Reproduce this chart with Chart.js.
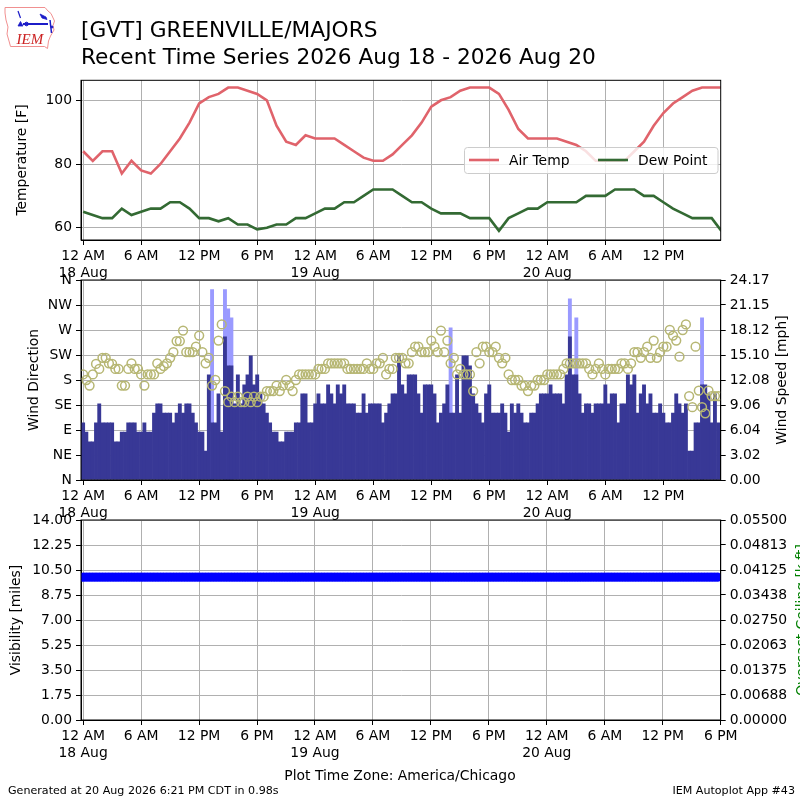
<!DOCTYPE html>
<html><head><meta charset="utf-8">
<script src="https://cdn.jsdelivr.net/npm/chart.js@4.4.0/dist/chart.umd.min.js"></script>
<style>
html,body{margin:0;padding:0;background:#fff;}
#wrap{position:relative;width:800px;height:800px;overflow:hidden;background:#fff;}
#wrap canvas{position:absolute;left:0;top:0;}
#ov{position:absolute;left:0;top:0;pointer-events:none;}
</style></head><body>
<div id="wrap">
<canvas id="c1" width="800" height="800"></canvas>
<canvas id="c2" width="800" height="800"></canvas>
<canvas id="c3" width="800" height="800"></canvas>
<svg id="ov" width="800" height="800" font-family="DejaVu Sans" xmlns="http://www.w3.org/2000/svg">
  <!-- IEM logo -->
  <path d="M5,7.5 L45,7.5 L48,11 L51,13.5 L54.5,21 L53,25.5 L54,30 L50.5,36 L48.5,41 L47.5,48.5 L44.5,46.5 L10.5,46.5 L9,41 L7,34 L8,27 L6,20 L5,13 Z" fill="none" stroke="#f09090" stroke-width="1"/>
  <g stroke="#1c1cc8" fill="#1c1cc8">
    <line x1="18" y1="11" x2="20.5" y2="18" stroke-width="1.2"/>
    <path d="M18,26 L20.5,21.5 L23,26 Z" stroke-width="0.8"/>
    <line x1="23" y1="24" x2="48" y2="24" stroke-width="2"/>
    <circle cx="26.5" cy="24" r="1.8"/>
    <path d="M40,14 L46,17 L47,19.5 L42,18 Z" stroke-width="0.8"/>
    <line x1="50" y1="20" x2="51.5" y2="33" stroke-width="1.5"/>
    <circle cx="52" cy="27" r="1"/>
  </g>
  <text x="16.5" y="44" font-family="Liberation Serif" font-style="italic" font-size="15" fill="#cc2222">IEM</text>
  <!-- titles -->
  <text x="81" y="37.3" font-size="21.7" fill="#000">[GVT] GREENVILLE/MAJORS</text>
  <text x="81" y="64" font-size="21.7" fill="#000">Recent Time Series 2026 Aug 18 - 2026 Aug 20</text>
  <!-- legend -->
  <rect x="464.5" y="147.5" width="253.5" height="26" rx="3" fill="#ffffff" fill-opacity="0.8" stroke="#cccccc" stroke-width="1"/>
  <line x1="469" y1="160" x2="499" y2="160" stroke="#e0636b" stroke-width="2.6"/>
  <text x="509" y="165" font-size="13.9" fill="#000">Air Temp</text>
  <line x1="598" y1="160" x2="628" y2="160" stroke="#336a33" stroke-width="2.6"/>
  <text x="638" y="165" font-size="13.9" fill="#000">Dew Point</text>
  <!-- axis titles -->
  <text transform="translate(26,160) rotate(-90)" text-anchor="middle" font-size="13.9" fill="#000">Temperature [F]</text>
  <text transform="translate(38,380) rotate(-90)" text-anchor="middle" font-size="13.9" fill="#000">Wind Direction</text>
  <text transform="translate(786,380) rotate(-90)" text-anchor="middle" font-size="13.9" fill="#000">Wind Speed [mph]</text>
  <text transform="translate(20,620) rotate(-90)" text-anchor="middle" font-size="13.9" fill="#000">Visibility [miles]</text>
  <text transform="translate(806,620) rotate(-90)" text-anchor="middle" font-size="13.9" fill="#008000">Overcast Ceiling [k ft]</text>
  <!-- footer -->
  <text x="400" y="780" text-anchor="middle" font-size="13.9" fill="#000">Plot Time Zone: America/Chicago</text>
  <text x="8" y="794" font-size="11.1" fill="#000">Generated at 20 Aug 2026 6:21 PM CDT in 0.98s</text>
  <text x="795" y="794" text-anchor="end" font-size="11.1" fill="#000">IEM Autoplot App #43</text>
</svg>
</div>
<script>
// ---------------- DATA ----------------
// hourly temperatures (F), hour 0 = 12 AM 18 Aug
const airTemp = [84,81,84,84,77,81,78,77,80,84,
                 88,93,99,101,102,104,104,103,102,100,
                 92,87,86,89,88,88,88,86,84,82,
                 81,81,83,86,89,93,98,100,101,103,
                 104,104,104,102,97,91,88,88,88,88,
                 87,86,84,81,81,81,81,84,87,92,
                 96,99,101,103,104,104,104];
const dewPoint = [65,64,63,63,66,64,65,66,66,68,
                  68,66,63,63,62,63,61,61,59.5,60,
                  61,61,63,63,64.5,66,66,68,68,70,
                  72,72,72,70,68,68,66,64.5,64.5,64.5,
                  63,63,63,59,63,64.5,66,66,68,68,
                  68,68,70,70,70,72,72,72,70,70,
                  68,66,64.5,63,63,63,59];
// 20-minute observations
const windSpeedMph = [6.9,5.8,4.6,4.6,6.9,9.2,6.9,6.9,6.9,6.9,
  4.6,4.6,5.8,5.8,6.9,6.9,6.9,5.8,5.8,6.9,
  5.8,5.8,8.1,9.2,9.2,8.1,8.1,8.1,6.9,8.1,
  9.2,8.1,9.2,9.2,8.1,6.9,5.8,5.8,3.5,12.7,
  6.9,6.9,10.4,5.8,17.3,13.8,13.8,9.2,12.7,9.2,
  11.5,12.7,15.0,11.5,12.7,10.4,9.2,8.1,6.9,5.8,
  5.8,4.6,4.6,5.8,5.8,5.8,6.9,6.9,10.4,10.4,
  6.9,6.9,9.2,10.4,9.2,9.2,11.5,10.4,9.2,11.5,
  10.4,11.5,9.2,9.2,9.2,8.1,8.1,10.4,8.1,9.2,
  9.2,9.2,9.2,6.9,8.1,9.2,10.4,10.4,15.0,11.5,
  10.4,12.7,12.7,12.7,10.4,8.1,11.5,11.5,11.5,10.4,
  6.9,8.1,9.2,11.5,8.1,8.1,12.7,8.1,15.0,15.0,
  13.8,10.4,9.2,8.1,6.9,10.4,11.5,8.1,8.1,8.1,
  9.2,8.1,5.8,9.2,8.1,9.2,8.1,6.9,6.9,8.1,
  8.1,9.2,10.4,10.4,10.4,11.5,10.4,10.4,10.4,9.2,
  12.7,17.3,12.7,12.7,10.4,8.1,9.2,9.2,8.1,9.2,
  9.2,9.2,11.5,9.2,10.4,10.4,6.9,9.2,9.2,12.7,
  11.5,12.7,8.1,10.4,11.5,9.2,10.4,8.1,8.1,9.2,
  8.1,6.9,6.9,8.1,10.4,9.2,8.1,9.2,3.5,3.5,
  6.9,6.9,11.5,11.5,10.4,6.9,10.4,6.9];
const gustObsIndex = [40,44,45,46,114,151,153,192];
const windGustMph  = [23.0,23.0,20.7,19.6,18.4,21.9,19.6,19.6];
const windDirDeg = [190,180,170,190,209,200,220,220,210,209,
  200,200,170,170,200,210,200,200,190,170,
  190,190,190,210,200,205,210,220,230,250,
  250,269,230,230,230,240,260,230,210,220,
  170,180,251,280,160,140,150,140,150,140,
  140,150,140,150,140,150,150,160,160,160,
  170,160,170,180,170,160,180,190,190,190,
  190,190,190,200,200,200,210,210,210,210,
  210,210,200,200,200,200,200,200,210,200,
  200,210,210,220,190,200,200,220,220,220,
  210,210,230,240,240,230,230,230,251,240,
  230,269,230,251,210,220,190,200,190,190,
  190,160,230,210,240,240,230,230,240,220,
  210,220,190,180,180,180,170,170,160,170,
  170,180,180,180,190,190,190,190,190,200,
  210,210,210,210,210,210,210,200,190,200,
  210,200,190,200,200,200,200,210,210,200,
  210,230,230,220,230,240,220,251,220,230,
  240,240,270,260,251,222,270,280,151,131,
  240,161,131,120,161,151,151,151];
const visibilityMiles = [
  10,10,10,10,10,10,10,10,10,10,10,10,10,10,10,10,10,10,10,10,10,10,
  10,10,10,10,10,10,10,10,10,10,10,10,10,10,10,10,10,10,10,10,10,10,
  10,10,10,10,10,10,10,10,10,10,10,10,10,10,10,10,10,10,10,10,10,10,
  10,10,10,10,10,10,10,10,10,10,10,10,10,10,10,10,10,10,10,10,10,10,
  10,10,10,10,10,10,10,10,10,10,10,10,10,10,10,10,10,10,10,10,10,10,
  10,10,10,10,10,10,10,10,10,10,10,10,10,10,10,10,10,10,10,10,10,10,
  10,10,10,10,10,10,10,10,10,10,10,10,10,10,10,10,10,10,10,10,10,10,
  10,10,10,10,10,10,10,10,10,10,10,10,10,10,10,10,10,10,10,10,10,10,
  10,10,10,10,10,10,10,10,10,10,10,10,10,10,10,10,10,10,10,10,10,10];
const ceilingKft = [];

// ---------------- TICKS ----------------
const xTickHours = [0,6,12,18,24,30,36,42,48,54,60,66];
const xTickLabels = [["12 AM","18 Aug"],"6 AM","12 PM","6 PM",["12 AM","19 Aug"],"6 AM","12 PM","6 PM",["12 AM","20 Aug"],"6 AM","12 PM","6 PM"];
const tempTicks = [60,80,100];
const dirTicks = [0,45,90,135,180,225,270,315,360];
const dirTickLabels = ["N","NE","E","SE","S","SW","W","NW","N"];
const speedTicks = [0,3.02,6.04,9.06,12.08,15.10,18.12,21.15,24.17];
const visTicks = [0,1.75,3.5,5.25,7,8.75,10.5,12.25,14];
const ceilTicks = [0,0.00688,0.01375,0.02063,0.0275,0.03438,0.04125,0.04813,0.055];

// ---------------- HELPERS ----------------
const FONT = {family:'DejaVu Sans', size:13.9};
const GRID = '#b0b0b0';
const X_MIN = -0.22;
Chart.defaults.font.family = 'DejaVu Sans';

const frame = {id:'frame', afterDraw(chart){
  const {ctx, chartArea:a} = chart;
  ctx.save(); ctx.strokeStyle='#000'; ctx.lineWidth=1;
  ctx.strokeRect(a.left, a.top, a.right-a.left, a.bottom-a.top);
  ctx.restore();
}};

function xAxis(max){
  return {
    type:'linear', position:'bottom', min:X_MIN, max:max, offset:false,
    grid:{color:GRID, lineWidth:1, tickColor:'#000', tickLength:5, offset:false},
    border:{color:'#000', width:1},
    ticks:{font:FONT, color:'#000', padding:3, maxRotation:0, minRotation:0, autoSkip:false,
      callback:(v)=>{const k=xTickHours.indexOf(v); return k>=0?xTickLabels[k]:'';}},
    afterBuildTicks:(ax)=>{ax.ticks = xTickHours.filter(h=>h>=ax.min-1e-9 && h<=ax.max+1e-9).map(h=>({value:h}));},
    afterFit:(ax)=>{ax.height=40;}
  };
}
function yAxis(pos, min, max, ticks, labels, drawGrid){
  return {
    type:'linear', position:pos, min:min, max:max,
    grid:{display:true, drawOnChartArea:drawGrid, color:GRID, lineWidth:1, tickColor:'#000', tickLength:5},
    border:{color:'#000', width:1},
    ticks:{font:FONT, color:'#000', padding:4, autoSkip:false, callback:(v,i)=>labels[i]},
    afterBuildTicks:(ax)=>{ax.ticks = ticks.map(v=>({value:v}));},
    afterFit:(ax)=>{ax.width = (pos==='left') ? 81 : 79.3;}
  };
}
const common = {responsive:false, animation:false, devicePixelRatio:1,
  plugins:{legend:{display:false}, tooltip:{enabled:false}}};

// ---------------- PANEL 1: temperature ----------------
new Chart(document.getElementById('c1'), {
  type:'line',
  data:{datasets:[
    {label:'Air Temp', data:airTemp.map((v,i)=>({x:i,y:v})), borderColor:'#e0636b', borderWidth:2.6, pointRadius:0, tension:0},
    {label:'Dew Point', data:dewPoint.map((v,i)=>({x:i,y:v})), borderColor:'#336a33', borderWidth:2.6, pointRadius:0, tension:0}
  ]},
  options:Object.assign({}, common, {
    layout:{padding:{top:80.3, bottom:520, left:0, right:79.3}},
    scales:{
      x:xAxis(65.93),
      y:yAxis('left', 56.14, 106.28, tempTicks, tempTicks.map(String), true)
    }
  }),
  plugins:[frame]
});

// ---------------- PANEL 2: wind ----------------
new Chart(document.getElementById('c2'), {
  type:'bar',
  data:{datasets:[
    {type:'line', label:'Wind Direction', data:windDirDeg.map((v,i)=>({x:i/3,y:v})), yAxisID:'y', showLine:false,
      pointRadius:4.4, pointBorderWidth:1.5, pointBorderColor:'#b7b774', pointBackgroundColor:'rgba(0,0,0,0)', order:0},
    {type:'bar', label:'Wind Speed', data:windSpeedMph.map((v,i)=>({x:i/3,y:v})), yAxisID:'y1',
      backgroundColor:'#383896', grouped:false, barPercentage:1, categoryPercentage:1, borderWidth:0, order:1},
    {type:'bar', label:'Wind Gust', data:gustObsIndex.map((k,j)=>({x:k/3,y:windGustMph[j]})), yAxisID:'y1',
      backgroundColor:'#9a9aff', grouped:false, barPercentage:1, categoryPercentage:1, borderWidth:0, order:2}
  ]},
  options:Object.assign({}, common, {
    layout:{padding:{top:280, bottom:280, left:0, right:0}},
    scales:{
      x:xAxis(65.93),
      y:yAxis('left', 0, 360, dirTicks, dirTickLabels, true),
      y1:yAxis('right', 0, 24.17, speedTicks, speedTicks.map(v=>v.toFixed(2)), false)
    }
  }),
  plugins:[frame]
});

// ---------------- PANEL 3: visibility / ceiling ----------------
new Chart(document.getElementById('c3'), {
  type:'line',
  data:{datasets:[
    {label:'Visibility', data:visibilityMiles.map((v,i)=>({x:i/3,y:v})), yAxisID:'y', showLine:false,
      pointStyle:'circle', pointRadius:4.6, pointBorderWidth:0, pointBackgroundColor:'#0000ff', borderColor:'#0000ff'},
    {label:'Overcast Ceiling', data:ceilingKft, yAxisID:'y1', showLine:false, pointRadius:0, borderColor:'green'}
  ]},
  options:Object.assign({}, common, {
    layout:{padding:{top:520, bottom:40, left:0, right:0}},
    scales:{
      x:xAxis(66.0),
      y:yAxis('left', 0, 14, visTicks, visTicks.map(v=>v.toFixed(2)), true),
      y1:yAxis('right', 0, 0.055, ceilTicks, ceilTicks.map(v=>v.toFixed(5)), false)
    }
  }),
  plugins:[frame]
});
</script>
</body></html>
